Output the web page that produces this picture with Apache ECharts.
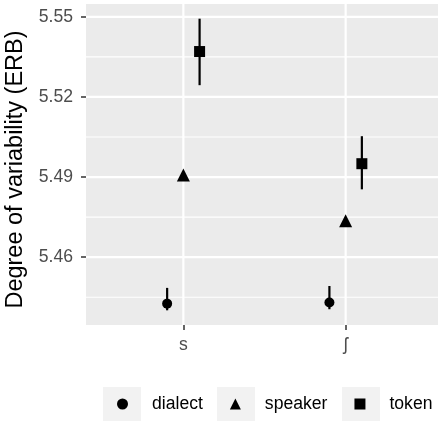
<!DOCTYPE html>
<html>
<head>
<meta charset="utf-8">
<script src="https://cdn.jsdelivr.net/npm/echarts@6/dist/echarts.min.js"></script>
<style>html,body{margin:0;padding:0;background:#fff;}#c{width:438px;height:421px;}</style>
</head>
<body>
<div id="c"></div>
<script>
const categories = ['s', 'ʃ'];
const seriesNames = ['dialect', 'speaker', 'token'];
const dialectMean = [5.4426, 5.4430];
const dialectLo   = [5.4401, 5.4405];
const dialectHi   = [5.4485, 5.4492];
const speakerMean = [5.4908, 5.4736];
const speakerLo   = [5.4900, 5.4728];
const speakerHi   = [5.4916, 5.4744];
const tokenMean   = [5.5370, 5.4950];
const tokenLo     = [5.5244, 5.4854];
const tokenHi     = [5.5493, 5.5053];
const yTicks = [5.46, 5.49, 5.52, 5.55];
const yMinorTicks = [5.445, 5.475, 5.505, 5.535];
const xTicks = [1, 2];

const FONT = 'Liberation Sans, Arial, Helvetica, DejaVu Sans, sans-serif';
const dodge = { dialect: -0.1, speaker: 0, token: 0.1 };
const symbols = { dialect: 'circle', speaker: 'triangle', token: 'rect' };
const symbolSizes = { dialect: 10, speaker: 13, token: 11 };
const groups = {
  dialect: [dialectMean, dialectLo, dialectHi],
  speaker: [speakerMean, speakerLo, speakerHi],
  token: [tokenMean, tokenLo, tokenHi]
};

const GRIDCOL = '#ffffff';
const panelSeries = {
  type: 'custom', name: 'panel', z: 1, silent: true, clip: false,
  data: [[1.5, 5.5]],
  renderItem: function (params, api) {
    const cs = params.coordSys;
    const children = [{ type: 'rect', z2: -10, shape: { x: cs.x, y: cs.y, width: cs.width, height: cs.height },
      style: { fill: '#ebebeb', stroke: null } }];
    yMinorTicks.forEach(v => {
      const y = api.coord([1.5, v])[1];
      children.push({ type: 'line', z2: 5, shape: { x1: cs.x, y1: y, x2: cs.x + cs.width, y2: y },
        style: { stroke: GRIDCOL, lineWidth: 1.1, fill: null } });
    });
    yTicks.forEach(v => {
      const y = api.coord([1.5, v])[1];
      children.push({ type: 'line', z2: 6, shape: { x1: cs.x, y1: y, x2: cs.x + cs.width, y2: y },
        style: { stroke: GRIDCOL, lineWidth: 2.2, fill: null } });
    });
    xTicks.forEach(v => {
      const x = api.coord([v, 5.5])[0];
      children.push({ type: 'line', z2: 6, shape: { x1: x, y1: cs.y, x2: x, y2: cs.y + cs.height },
        style: { stroke: GRIDCOL, lineWidth: 2.2, fill: null } });
    });
    return { type: 'group', children: children };
  }
};

const series = [panelSeries];
seriesNames.forEach(name => {
  const [mean, lo, hi] = groups[name];
  series.push({
    type: 'custom', name: name + ' CI', z: 3, silent: true,
    data: categories.map((c, i) => [i + 1 + dodge[name], lo[i], hi[i]]),
    renderItem: function (params, api) {
      const p1 = api.coord([api.value(0), api.value(1)]);
      const p2 = api.coord([api.value(0), api.value(2)]);
      return { type: 'line', shape: { x1: p1[0], y1: p1[1], x2: p2[0], y2: p2[1] },
        style: { stroke: '#000', lineWidth: 2.2 } };
    }
  });
  series.push({
    type: 'scatter', name: name, z: 4,
    symbol: symbols[name], symbolSize: symbolSizes[name],
    itemStyle: { color: '#000', opacity: 1 },
    data: categories.map((c, i) => [i + 1 + dodge[name], mean[i]])
  });
});

const chart = echarts.init(document.getElementById('c'), null, { renderer: 'canvas' });
chart.setOption({
  backgroundColor: '#ffffff',
  animation: false,
  grid: { left: 86, top: 4, width: 357, height: 321, show: false, containLabel: false, outerBoundsMode: 'none' },
  xAxis: {
    type: 'value', min: 0.4, max: 2.6,
    axisLine: { show: false },
    axisTick: { show: true, length: 5, lineStyle: { color: '#333', width: 1.5 }, customValues: xTicks },
    axisLabel: { customValues: xTicks, color: '#4d4d4d', fontSize: 17.6, fontFamily: FONT, margin: 11,
      formatter: v => categories[Math.round(v) - 1] },
    splitLine: { show: false }
  },
  yAxis: {
    type: 'value', min: 5.4346, max: 5.5548,
    name: 'Degree of variability (ERB)', nameLocation: 'middle', nameGap: 42,
    nameTextStyle: { color: '#000', fontSize: 23.5, fontFamily: FONT, padding: [0, 10, 0, 0] },
    axisLine: { show: false },
    axisTick: { show: true, length: 5, lineStyle: { color: '#333', width: 1.5 }, customValues: yTicks },
    axisLabel: { customValues: yTicks, color: '#4d4d4d', fontSize: 17.6, fontFamily: FONT, margin: 13,
      formatter: v => v.toFixed(2) },
    splitLine: { show: false }
  },
  legend: {
    data: seriesNames.map(n => ({ name: n, icon: symbols[n] })),
    left: 117, top: 395, padding: 0, itemGap: 27,
    itemWidth: 11, itemHeight: 11,
    itemStyle: { color: '#000' },
    textStyle: { color: '#000', fontSize: 17.6, fontFamily: FONT, padding: [0, 0, 0, 19] }
  },
  graphic: [
    { type: 'rect', left: 103, top: 387, shape: { width: 38, height: 34 }, style: { fill: '#f2f2f2' }, z: -1 },
    { type: 'rect', left: 217, top: 387, shape: { width: 38, height: 34 }, style: { fill: '#f2f2f2' }, z: -1 },
    { type: 'rect', left: 342, top: 387, shape: { width: 38, height: 34 }, style: { fill: '#f2f2f2' }, z: -1 }
  ],
  series: series
});
</script>
</body>
</html>
